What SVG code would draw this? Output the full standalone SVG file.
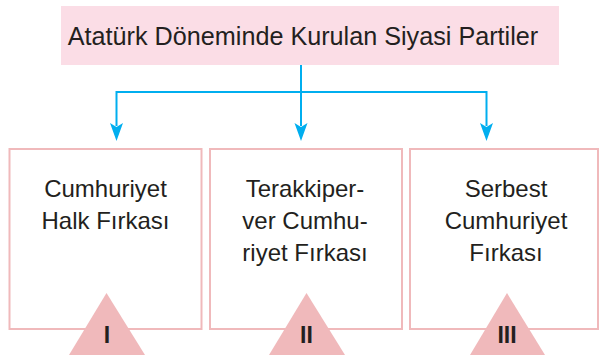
<svg xmlns="http://www.w3.org/2000/svg" width="599" height="361" viewBox="0 0 599 361">
<defs>
<style>
.t{font-family:"Liberation Sans",Arial,sans-serif;font-size:24px;fill:#231f20;text-anchor:middle}
.ti{font-family:"Liberation Sans",Arial,sans-serif;font-size:25.2px;fill:#231f20;text-anchor:middle}
.n{font-family:"Liberation Sans",Arial,sans-serif;font-size:23px;font-weight:bold;fill:#231f20;text-anchor:middle}
.box{fill:#fff;stroke:#f0b9bb;stroke-width:2}
.tri{fill:#f0b9bb}
.c{fill:none;stroke:#00aeef;stroke-width:2}
.ah{fill:#00aeef}
</style>
</defs>
<rect width="599" height="361" fill="#fff"/>
<g id="title">
<rect x="61" y="6" width="498" height="59" fill="#fbdde6"/>
<text class="ti" x="303" y="45">Atatürk Döneminde Kurulan Siyasi Partiler</text>
</g>
<g id="connectors">
<path class="c" d="M301,65 V92 M116.5,92 H487"/>
<path class="c" d="M116.5,91 V126"/>
<path class="c" d="M301,92 V126"/>
<path class="c" d="M486.5,91 V126"/>
<path class="ah" d="M110,123 L116.5,127 L123,123 L116.5,141 Z"/>
<path class="ah" d="M294.5,123 L301,127 L307.5,123 L301,141 Z"/>
<path class="ah" d="M480,123 L486.5,127 L493,123 L486.5,141 Z"/>
</g>
<g id="node1">
<rect class="box" x="9.5" y="149" width="192" height="180"/>
<text class="t" x="105.5" y="197">Cumhuriyet</text>
<text class="t" x="105.5" y="229">Halk Fırkası</text>
<polygon class="tri" points="106.5,293 69,355 145,355"/>
<text class="n" x="107" y="343">I</text>
</g>
<g id="node2">
<rect class="box" x="210" y="149" width="192" height="180"/>
<text class="t" x="305" y="197">Terakkiper-</text>
<text class="t" x="305" y="229">ver Cumhu-</text>
<text class="t" x="305" y="261">riyet Fırkası</text>
<polygon class="tri" points="306.5,293 269,355 345,355"/>
<text class="n" x="306.5" y="343">II</text>
</g>
<g id="node3">
<rect class="box" x="410" y="149" width="188" height="180"/>
<text class="t" x="506" y="197">Serbest</text>
<text class="t" x="506" y="229">Cumhuriyet</text>
<text class="t" x="506" y="261">Fırkası</text>
<polygon class="tri" points="507,293 470,355 545,355"/>
<text class="n" x="507" y="343">III</text>
</g>
</svg>
